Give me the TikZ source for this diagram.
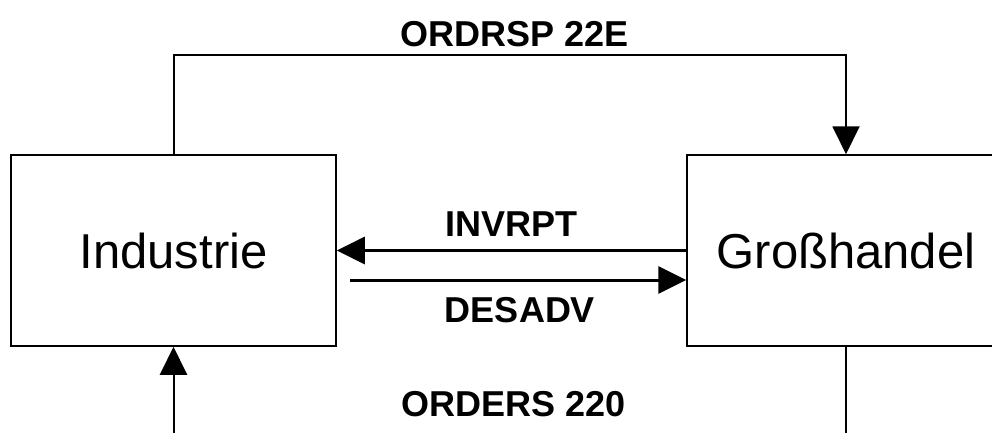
\documentclass[tikz,border=0pt]{standalone}
\usepackage{fontspec}
\setmainfont{Liberation Sans}
\usepackage{tikz}
\usetikzlibrary{arrows.meta, calc}
\tikzstyle{party}=[shape=rectangle, draw, line width=1.5pt, minimum height=191pt, inner sep=0, font=\fontsize{49}{54}\selectfont]
\tikzstyle{msg}=[font=\fontsize{36}{40}\selectfont\bfseries, inner sep=0]
\tikzstyle{link}=[line width=2pt]
\tikzstyle{flow}=[line width=3pt]
\tikzstyle{head}=[-{Triangle[length=28pt, width=27pt]}]

\begin{document}
\begin{tikzpicture}[x=1pt, y=-1pt]
\clip (0,0) rectangle (992,433);
\fill[white] (0,0) rectangle (992,433);
\node[party, minimum width=325pt] (ind) at (173.5,250.5) {Industrie};
\node[party, minimum width=318pt] (gro) at (846,250.5) {Großhandel};
\coordinate (top) at (515,55);
\coordinate (low) at (515,433);
\coordinate (dstart) at (350,280);
% oben: Auftragsbestaetigung
\draw[link, head] (ind.north) |- (top) -| (gro.north);
\node[msg, above=8pt] at (top) {ORDRSP 22E};
% Mitte
\draw[flow, head] (gro.west) -- (ind.east) node[msg, midway, above=13pt]{INVRPT};
\draw[flow, head] (dstart) -- (dstart -| gro.west);
\node[msg] at (520,310) {DESADV};
% unten: Bestellung
\draw[link] (gro.south) -- (gro.south |- low);
\draw[link, head] (ind.south |- low) -- (ind.south);
\node[msg] at (514,404) {ORDERS 220};
\end{tikzpicture}
\end{document}
